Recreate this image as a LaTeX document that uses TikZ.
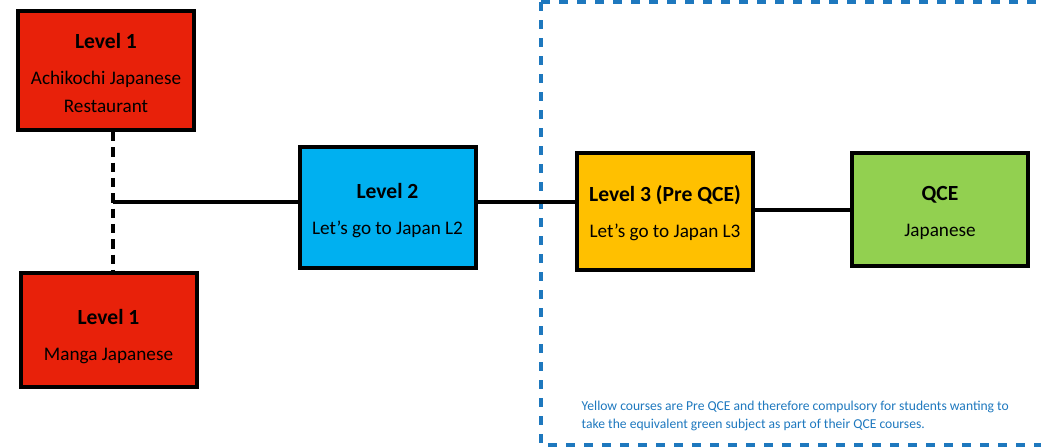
\documentclass[tikz,border=0pt]{standalone}
\usepackage{fontspec}
\setmainfont{Carlito}
\usetikzlibrary{positioning}
\definecolor{lvlred}{RGB}{232,33,10}
\definecolor{lvlblue}{RGB}{0,176,240}
\definecolor{lvlyellow}{RGB}{255,192,0}
\definecolor{lvlgreen}{RGB}{146,208,80}
\definecolor{notblue}{RGB}{30,120,190}
\tikzset{x=0.75pt, y=-0.75pt,
    box/.style = {draw, line width=3pt, inner sep=0pt, align=center,
                  minimum width=132pt, font=\fontsize{14.4}{21}\selectfont},
    link/.style = {line width=2.6pt}}
\newcommand{\lvl}[2][0pt]{{\bfseries\fontsize{16.2}{19}\selectfont\rule{0pt}{#1}#2}}

\begin{document}
\begin{tikzpicture}
    \useasboundingbox (0,0) rectangle (1041,447);
    % boundary of the QCE pathway
    \draw[notblue, line width=2.8pt, dash pattern=on 7pt off 6.5pt]
        (541,2) -- (1050,2) (541,2) -- (541,445) -- (1050,445);
    \node[box, fill=lvlred, minimum height=89pt] (a) at (106,70.5)
        {\lvl[15pt]{Level 1}\\[6pt]Achikochi Japanese\\Restaurant};
    \node[box, fill=lvlred, minimum height=85.5pt] (b) at (108.5,330)
        {\lvl[20.5pt]{Level 1}\\[6pt]Manga Japanese};
    \node[box, fill=lvlblue, minimum height=90.75pt] (c) at (387.5,207.5)
        {\lvl[16pt]{Level 2}\\[6pt]Let’s go to Japan L2};
    \node[box, fill=lvlyellow, minimum height=87.75pt] (d) at (665,211.5)
        {\lvl[15pt]{Level 3 (Pre QCE)}\\[6pt]Let’s go to Japan L3};
    \node[box, fill=lvlgreen, minimum height=84.75pt] (e) at (940,209.5)
        {\lvl[16pt]{QCE}\\[6pt]Japanese};
    \coordinate (j) at (113,202);
    \draw[link, dash pattern=on 7pt off 4.5pt] (j |- a.south) -- (j |- b.north);
    \draw[link] (j) -- (c.west |- j)
          (c.east |- j) -- (d.west |- j)
          (d.east |- 0,210) -- (e.west |- 0,210);
    \node[anchor=west, align=left, text=notblue,
          font=\fontsize{10.2}{13.5}\selectfont] (note) at (577,416)
        {Yellow courses are Pre QCE and therefore compulsory for students wanting to\\
         take the equivalent green subject as part of their QCE courses.};
\end{tikzpicture}
\end{document}
